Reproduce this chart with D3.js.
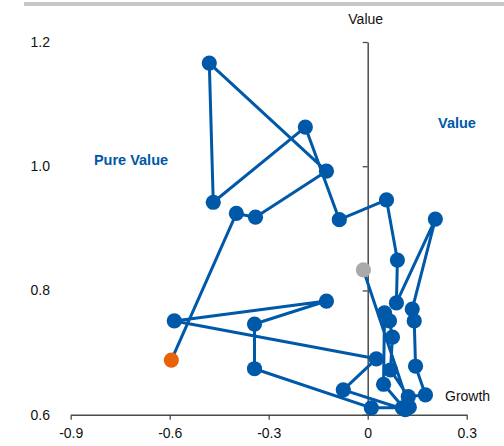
<!DOCTYPE html>
<html>
<head>
<meta charset="utf-8">
<script src="https://cdn.jsdelivr.net/npm/d3@7/dist/d3.min.js"></script>
<style>
  html, body { margin: 0; padding: 0; background: #fff; }
  svg { display: block; font-family: "Liberation Sans", Arial, sans-serif; }
</style>
</head>
<body>
<svg id="chart" width="504" height="446"></svg>
<script>
// Path of points (start = grey, end = orange)
const growth = [-0.013, 0.126, 0.105, 0.011, -0.343, -0.343, -0.125, -0.586, 0.026, -0.074,
                0.114, 0.048, 0.051, 0.066, 0.075, 0.069, 0.123, 0.175, 0.145, 0.141,
                0.135, 0.205, 0.087, 0.090, 0.057, -0.086, -0.189, -0.468, -0.480, -0.125,
                -0.340, -0.398, -0.595];
const value  = [0.833, 0.612, 0.611, 0.611, 0.674, 0.746, 0.783, 0.751, 0.690, 0.640,
                0.608, 0.649, 0.764, 0.751, 0.725, 0.672, 0.629, 0.632, 0.678, 0.751,
                0.770, 0.915, 0.780, 0.849, 0.946, 0.914, 1.063, 0.942, 1.166, 0.992,
                0.918, 0.924, 0.688];
const xTicks = [-0.9, -0.6, -0.3, 0, 0.3];
const yTicks = [0.6, 0.8, 1.0, 1.2];
const xTickLabels = ["-0.9", "-0.6", "-0.3", "0", "0.3"];
const yTickLabels = ["0.6", "0.8", "1.0", "1.2"];
const quadrantLabels = ["Pure Value", "Value"];
const axisTitles = ["Value", "Growth"];

const svg = d3.select("#chart");
const x = d3.scaleLinear().domain([-0.9, 0.3]).range([70.7, 466.7]);
const y = d3.scaleLinear().domain([0.6, 1.2]).range([414.7, 42]);
const blue = "#0058a9";
const axisColor = "#4a4a4a";

// top grey rule
svg.append("line").attr("x1", 24).attr("x2", 504).attr("y1", 4).attr("y2", 4)
  .attr("stroke", "#c6c6c6").attr("stroke-width", 4);

// x axis
const xAxis = d3.axisBottom(x).tickValues(xTicks)
  .tickFormat((d, i) => xTickLabels[i]).tickSizeInner(5).tickSizeOuter(0).tickPadding(8);
const gx = svg.append("g").attr("transform", `translate(0,${y(0.6)})`).call(xAxis);
gx.select(".domain").attr("stroke", axisColor).attr("stroke-width", 1.5);
gx.selectAll(".tick line").attr("stroke", axisColor).attr("stroke-width", 1.3);
gx.selectAll(".tick text").attr("font-size", 14).attr("fill", "#111")
  .attr("font-family", "Liberation Sans, Arial, sans-serif");

// y axis at x = 0
const yAxis = d3.axisLeft(y).tickValues(yTicks)
  .tickFormat((d, i) => yTickLabels[i]).tickSizeInner(5).tickSizeOuter(0)
  .tickPadding(x(0) - 5 - 50);
const gy = svg.append("g").attr("transform", `translate(${x(0)},0)`).call(yAxis);
gy.select(".domain").attr("stroke", axisColor).attr("stroke-width", 1.5);
gy.selectAll(".tick line").attr("stroke", axisColor).attr("stroke-width", 1.3);
gy.selectAll(".tick text").attr("font-size", 14).attr("fill", "#111")
  .attr("font-family", "Liberation Sans, Arial, sans-serif");

// axis titles
svg.append("text").attr("x", x(0) - 2).attr("y", 24).attr("text-anchor", "middle")
  .attr("font-size", 14).attr("fill", "#111").text(axisTitles[0]);
svg.append("text").attr("x", 445).attr("y", 401).attr("text-anchor", "start")
  .attr("font-size", 14).attr("fill", "#111").text(axisTitles[1]);

// quadrant labels
svg.append("text").attr("x", 131).attr("y", 165).attr("text-anchor", "middle")
  .attr("font-size", 14.5).attr("font-weight", "bold").attr("fill", blue).text(quadrantLabels[0]);
svg.append("text").attr("x", 457).attr("y", 128).attr("text-anchor", "middle")
  .attr("font-size", 14.5).attr("font-weight", "bold").attr("fill", blue).text(quadrantLabels[1]);

// path
const pts = growth.map((g, i) => ({ g, v: value[i], i }));
const line = d3.line().x(d => x(d.g)).y(d => y(d.v));
svg.append("path").datum(pts).attr("d", line).attr("fill", "none")
  .attr("stroke", blue).attr("stroke-width", 3).attr("stroke-linejoin", "round");

const n = pts.length;
svg.append("g").selectAll("circle").data(pts).join("circle")
  .attr("cx", d => x(d.g)).attr("cy", d => y(d.v)).attr("r", 7.6)
  .attr("fill", d => d.i === 0 ? "#aaaaaa" : (d.i === n - 1 ? "#e8620a" : blue));
</script>
</body>
</html>
